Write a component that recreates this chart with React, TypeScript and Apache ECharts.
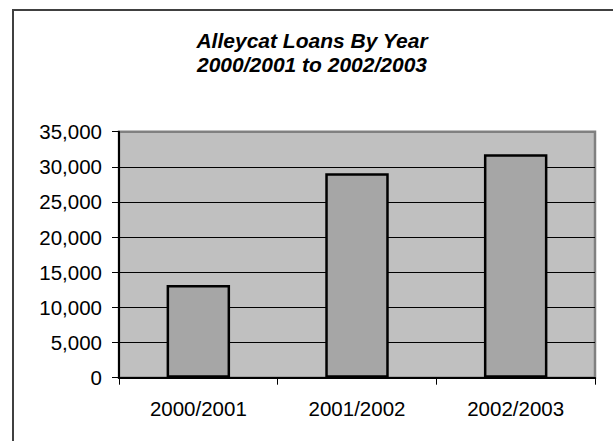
import React, { useEffect, useRef } from "react";
import * as echarts from "echarts";

const categories = ["2000/2001", "2001/2002", "2002/2003"];
const loans = [13200, 29100, 31800];
const yTicks = { min: 0, max: 35000, interval: 5000 };
const titleLines = ["Alleycat Loans By Year", "2000/2001 to 2002/2003"];

const FONT = '"Liberation Sans", Arial, sans-serif';

export default function App() {
  const ref = useRef<HTMLDivElement>(null);
  useEffect(() => {
    if (!ref.current) return;
    const chart = echarts.init(ref.current, null, { renderer: "svg" });
    chart.setOption({
      animation: false,
      backgroundColor: "#ffffff",
      graphic: [
        {
          type: "rect",
          shape: { x: 13, y: 10, width: 700, height: 500 },
          style: { fill: "none", stroke: "#404040", lineWidth: 2 },
          silent: true,
          z: -1,
        },
        {
          type: "text",
          x: 312,
          y: 28,
          style: {
            text: titleLines.join("\n"),
            font: `italic bold 21px ${FONT}`,
            fill: "#000",
            align: "center",
            verticalAlign: "top",
            lineHeight: 24,
          },
        },
      ],
      grid: {
        left: 119,
        right: 18,
        top: 131.7,
        bottom: 63.3,
        show: true,
        backgroundColor: "#c0c0c0",
        borderColor: "#808080",
        borderWidth: 2.5,
        containLabel: false,
      },
      xAxis: {
        type: "category",
        data: categories,
        boundaryGap: true,
        axisLine: { show: true, lineStyle: { color: "#000", width: 2 } },
        axisTick: { show: true, length: 7, lineStyle: { color: "#000", width: 1 } },
        axisLabel: {
          color: "#000",
          fontFamily: FONT,
          fontSize: 20.5,
          margin: 20,
        },
        splitLine: { show: false },
      },
      yAxis: {
        type: "value",
        min: yTicks.min,
        max: yTicks.max,
        interval: yTicks.interval,
        axisLine: { show: true, lineStyle: { color: "#000", width: 2 } },
        axisTick: { show: true, length: 7, lineStyle: { color: "#000", width: 1 } },
        axisLabel: {
          color: "#000",
          fontFamily: FONT,
          fontSize: 20.5,
          margin: 17,
          formatter: (v: number) => v.toLocaleString("en-US"),
        },
        splitLine: {
          show: true,
          showMinLine: false,
          showMaxLine: false,
          lineStyle: { color: "#000", width: 1 },
        },
      },
      series: [
        {
          type: "bar",
          data: loans,
          barWidth: "40%",
          itemStyle: {
            color: "#a6a6a6",
            borderColor: "#000",
            borderWidth: 2.5,
          },
        },
      ],
    });
    return () => chart.dispose();
  }, []);
  return (
    <div
      ref={ref}
      style={{ position: "fixed", left: 0, top: 0, width: 613, height: 441 }}
    />
  );
}
